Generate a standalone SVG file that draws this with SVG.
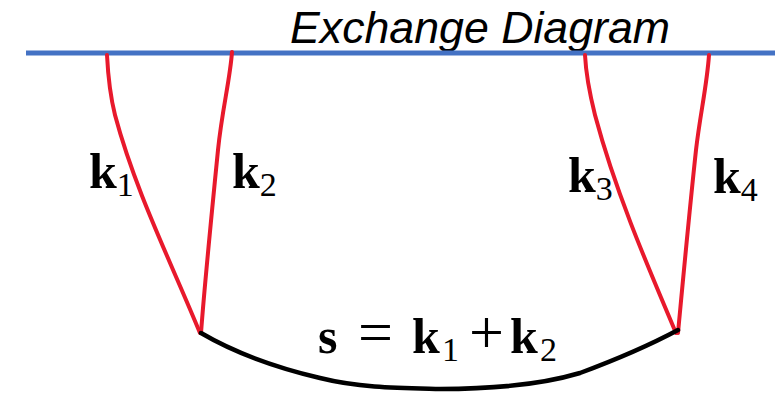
<svg xmlns="http://www.w3.org/2000/svg" width="784" height="393" viewBox="0 0 784 393">
<style>
.red{fill:none;stroke:#e8192c;stroke-width:4;stroke-linecap:round}
.blk{fill:none;stroke:#000;stroke-width:4.5;stroke-linecap:round}
.k{font-family:"Liberation Serif",serif;font-weight:bold;font-size:50px;fill:#000}
.sub{font-family:"Liberation Serif",serif;font-weight:normal;font-size:34px}
.op{font-family:"Liberation Serif",serif;font-weight:normal;font-size:62px}
.title{font-family:"Liberation Sans",sans-serif;font-style:italic;font-size:44px;fill:#000}
</style>
<rect width="784" height="393" fill="#fff"/>
<g id="title"><text class="title" x="290" y="43" textLength="380" lengthAdjust="spacingAndGlyphs">Exchange Diagram</text></g>
<g id="axis"><line x1="26" y1="53" x2="775" y2="53" stroke="#4472c4" stroke-width="5"/></g>
<g id="connectors">
<path class="red" d="M107,55 C108,75 110,95 115,115 C135,190 170,260 200,333"/>
<path class="red" d="M232,52 C230,80 222,110 218,150 C212,210 205,280 201,333"/>
<path class="red" d="M585,55 C586,75 590,95 595,115 C615,190 645,260 676,333"/>
<path class="red" d="M709,55 C707,85 700,115 696,150 C689,215 683,280 678,333"/>
<path class="blk" d="M201,333 C230,350 265,365 320,378 C360,388 400,388 440,389 C490,389 540,385 580,373 C615,360 650,345 678,330"/>
</g>
<g id="k1"><text class="k" x="89" y="188">k<tspan class="sub" dy="8">1</tspan></text></g>
<g id="k2"><text class="k" x="232" y="188">k<tspan class="sub" dy="8">2</tspan></text></g>
<g id="k3"><text class="k" x="568" y="192">k<tspan class="sub" dy="8">3</tspan></text></g>
<g id="k4"><text class="k" x="713" y="193">k<tspan class="sub" dy="8">4</tspan></text></g>
<g id="eq"><text class="k" y="353"><tspan x="318">s</tspan><tspan class="op" x="358">=</tspan><tspan x="412">k</tspan><tspan class="sub" x="442" dy="8">1</tspan><tspan class="op" x="469" dy="-8">+</tspan><tspan x="510">k</tspan><tspan class="sub" x="540" dy="8">2</tspan></text></g>
</svg>
